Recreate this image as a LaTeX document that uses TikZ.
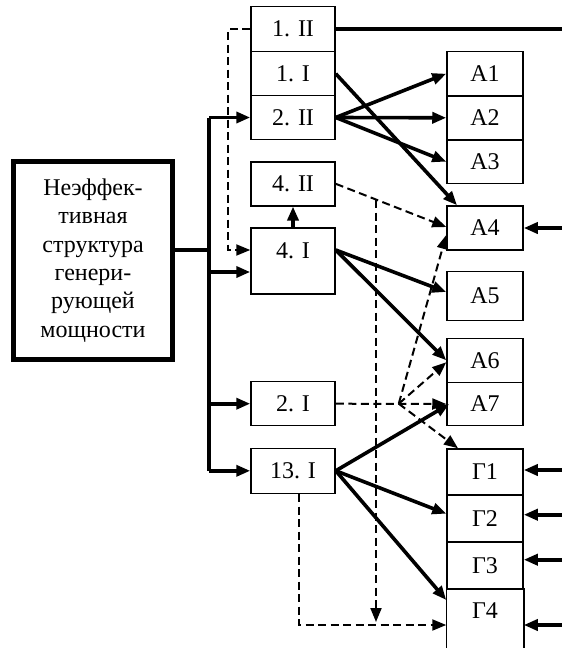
\documentclass[tikz,border=0pt]{standalone}
\usepackage{fontspec}
\setmainfont{Liberation Serif}
\usetikzlibrary{arrows.meta}
\begin{document}
\begin{tikzpicture}[x=1pt, y=-1pt,
    font=\fontsize{24}{28.3}\selectfont,
    cell/.style={draw, line width=1.5pt, minimum width=84pt, minimum height=44pt, inner sep=0pt},
    abox/.style={cell, minimum width=76pt},
    heavy/.style={line width=3.6pt},
    tip/.style={-{Triangle[length=14pt,width=11pt]}},
    dashline/.style={line width=2pt, dash pattern=on 8pt off 4.5pt}]
 \useasboundingbox (0,0) rectangle (562,648);

    % Main box
 \node[draw, line width=5pt, minimum width=159pt, minimum height=198pt, align=center] (main) at (93,260.5)
    {Неэффек-\\тивная\\структура\\генери-\\рующей\\мощности};

    % Middle column
 \node[cell, minimum height=45pt] (p1ii) at (293,29.2) {1. II};
 \node[cell] (p1i) at (293,73.7) {1. I};
 \node[cell] (p2ii) at (293,117.5) {2. II};
 \node[cell] (p4ii) at (293,183.8) {4. II};
 \node[cell, minimum height=66pt, text depth=20pt] (p4i) at (293,261) {4. I};
 \node[cell] (p2i) at (293,403.7) {2. I};
 \node[cell, minimum height=45pt] (p13i) at (293,470.8) {13. I};

    % Right column
 \node[abox] (a1) at (485,73.7) {A1};
 \node[abox] (a2) at (485,117.8) {A2};
 \node[abox] (a3) at (485,161.7) {A3};
 \node[abox] (a4) at (485,228) {A4};
 \node[abox, minimum height=49pt] (a5) at (485,296) {A5};
 \node[abox] (a6) at (485,360.3) {A6};
 \node[abox, minimum height=43.4pt] (a7) at (485,404) {A7};
 \node[abox, minimum height=46pt] (g1) at (485,472) {Г1};
 \node[abox, minimum height=47pt] (g2) at (485,518.7) {Г2};
 \node[abox, minimum height=47pt] (g3) at (485,565.7) {Г3};
 \node[abox, draw=none] (g4) at (485,611) {Г4};
 \draw[line width=1.5pt] (g4.north west) -- ++(0,70) (g4.north west) -- (g4.north east) -- ++(0,70);

    % Bus
 \coordinate (bus) at (209,0);
 \coordinate (hub) at ([xshift=63pt]p2i.east);
 \coordinate (vtop) at (376,200);
 \coordinate (vbot) at (376,622);
 \draw[heavy] ([yshift=10.5pt]main.east) -- ++(36,0);
 \draw[heavy] (p2ii.west -| bus) -- (p13i.west -| bus);
 \draw[heavy, tip] (p2ii.west -| bus) -- (p2ii.west);
 \draw[heavy, tip] ([yshift=-11pt]p4i.west) ++(-42,0) -- ([yshift=-11pt]p4i.west);
 \draw[heavy, tip] (p2i.west -| bus) -- (p2i.west);
 \draw[heavy, tip] (p13i.west -| bus) -- (p13i.west);
 \draw[heavy] (p1ii.east) -- ++(227,0);

    % Solid links
 \draw[heavy, tip] (p1i.east) -- ([xshift=-28pt]a4.north);
 \draw[heavy, tip] (p2ii.east) -- (a1.west);
 \draw[heavy, tip] (p2ii.east) -- (a2.west);
 \draw[heavy, tip] (p2ii.east) -- (a3.west);
 \draw[heavy, tip] (p4i.north) -- (p4ii.south);
 \draw[heavy, tip] ([yshift=11pt]p4i.east) -- ([yshift=4pt]a5.west);
 \draw[heavy, tip] ([yshift=11pt]p4i.east) -- (a6.west);
 \draw[heavy, tip] (p13i.east) -- ([xshift=3pt]a7.west);
 \draw[heavy, tip] (p13i.east) -- ([yshift=5pt]g2.west);
 \draw[heavy, tip] (p13i.east) -- ([yshift=11pt]g4.west);

    % Inputs from the right
 \draw[heavy, tip] (a4.east) ++(39,0) -- (a4.east);
 \draw[heavy, tip] ([yshift=2pt]g1.east) ++(39,0) -- ([yshift=2pt]g1.east);
 \draw[heavy, tip] ([yshift=4pt]g2.east) ++(39,0) -- ([yshift=4pt]g2.east);
 \draw[heavy, tip] ([yshift=6pt]g3.east) ++(39,0) -- ([yshift=6pt]g3.east);
 \draw[heavy, tip] ([yshift=-14pt]g4.east) ++(39,0) -- ([yshift=-14pt]g4.east);

    % Dashed links
 \draw[dashline, tip] (p1ii.west) -- ++(-22,0) |- ([yshift=11pt]p4i.west);
 \draw[dashline, tip] (p4ii.east) -- ([yshift=1pt]a4.west);
 \draw[dashline, tip] (vtop) -- (vbot);
 \draw[dashline, tip] ([xshift=6pt]p13i.south) |- ([yshift=-14pt]g4.west);
 \draw[dashline, tip] (p2i.east) -- (a7.west);
 \draw[dashline, tip] (hub) -- ([yshift=-7pt]a4.west);
 \draw[dashline, tip] (hub) -- ([yshift=-2pt]a6.west);
 \draw[dashline, tip] (hub) -- ([xshift=-27pt]g1.north);
\end{tikzpicture}
\end{document}
